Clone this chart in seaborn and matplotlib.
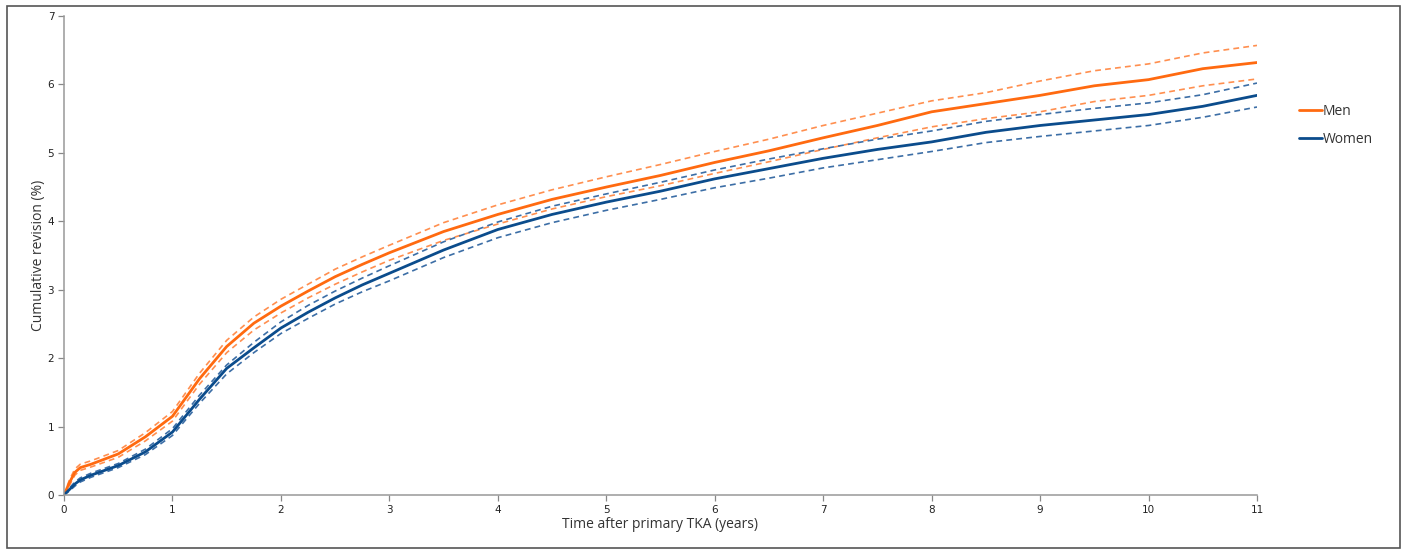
import numpy as np
import pandas as pd
import matplotlib
matplotlib.use("Agg")
import matplotlib.pyplot as plt
import seaborn as sns
from matplotlib.patches import Rectangle
from matplotlib.lines import Line2D

# ---- data ----
years = [0, 0.05, 0.1, 0.15, 0.25, 0.5, 0.75, 1.0, 1.25, 1.5, 1.75, 2, 2.25, 2.5, 2.75, 3,
         3.5, 4, 4.5, 5, 5.5, 6, 6.5, 7, 7.5, 8, 8.5, 9, 9.5, 10, 10.5, 11]
men = [0, 0.18, 0.33, 0.40, 0.45, 0.60, 0.85, 1.15, 1.70, 2.17, 2.51, 2.76, 2.98, 3.19, 3.37, 3.54,
       3.85, 4.10, 4.32, 4.50, 4.67, 4.86, 5.03, 5.22, 5.40, 5.60, 5.72, 5.84, 5.98, 6.07, 6.23, 6.32]
men_upper = [0, 0.22, 0.38, 0.45, 0.50, 0.65, 0.91, 1.22, 1.78, 2.26, 2.60, 2.86, 3.08, 3.30, 3.48, 3.65,
             3.98, 4.24, 4.46, 4.65, 4.83, 5.02, 5.20, 5.40, 5.58, 5.76, 5.88, 6.05, 6.20, 6.30, 6.46, 6.57]
men_lower = [0, 0.14, 0.29, 0.36, 0.41, 0.55, 0.79, 1.08, 1.62, 2.08, 2.41, 2.66, 2.88, 3.08, 3.26, 3.43,
             3.72, 3.96, 4.18, 4.36, 4.52, 4.70, 4.87, 5.05, 5.22, 5.38, 5.50, 5.60, 5.75, 5.84, 5.98, 6.08]
women = [0, 0.08, 0.16, 0.22, 0.29, 0.43, 0.63, 0.92, 1.40, 1.85, 2.15, 2.44, 2.67, 2.88, 3.07, 3.24,
         3.58, 3.88, 4.10, 4.28, 4.44, 4.62, 4.77, 4.92, 5.05, 5.16, 5.30, 5.40, 5.48, 5.56, 5.68, 5.84]
women_upper = [0, 0.10, 0.19, 0.25, 0.32, 0.46, 0.67, 0.97, 1.46, 1.90, 2.23, 2.53, 2.77, 2.98, 3.17, 3.35,
               3.70, 3.99, 4.22, 4.40, 4.57, 4.75, 4.91, 5.06, 5.20, 5.32, 5.46, 5.56, 5.65, 5.73, 5.85, 6.02]
women_lower = [0, 0.06, 0.13, 0.19, 0.26, 0.40, 0.59, 0.87, 1.34, 1.77, 2.08, 2.36, 2.58, 2.79, 2.97, 3.13,
               3.47, 3.76, 3.98, 4.16, 4.32, 4.49, 4.63, 4.78, 4.90, 5.02, 5.15, 5.24, 5.32, 5.40, 5.52, 5.67]

x_ticks = list(range(0, 12))
y_ticks = list(range(0, 8))
x_label = "Time after primary TKA (years)"
y_label = "Cumulative revision (%)"
legend_labels = ["Men", "Women"]

ORANGE = "#ff6a10"
ORANGE_L = "#ff8f4f"
BLUE = "#0b4c8c"
BLUE_L = "#3c6ea6"

sns.set_style("ticks")
plt.rcParams["font.family"] = ["DejaVu Sans"]

fig = plt.figure(figsize=(14.04, 5.52), dpi=100)
ax = fig.add_axes([64 / 1404, 1 - 495 / 552, (1257 - 64) / 1404, (495 - 16) / 552])

series = [
    (men_upper, ORANGE_L, "--", 1.2),
    (men_lower, ORANGE_L, "--", 1.2),
    (women_upper, BLUE_L, "--", 1.2),
    (women_lower, BLUE_L, "--", 1.2),
    (men, ORANGE, "-", 2.0),
    (women, BLUE, "-", 2.0),
]
for vals, col, ls, lw in series:
    sns.lineplot(x=years, y=vals, ax=ax, color=col, linestyle=ls, linewidth=lw,
                 estimator=None, sort=False, legend=False)
for l in ax.lines:
    if l.get_linestyle() == "--":
        l.set_dashes([3.5, 2.5])

ax.set_xlim(0, 11)
ax.set_ylim(0, 7)
ax.set_xticks(x_ticks)
ax.set_yticks(y_ticks)
ax.set_xticklabels([str(t) for t in x_ticks], fontsize=7.5, color="#222222")
ax.set_yticklabels([str(t) for t in y_ticks], fontsize=7.5, color="#222222")
ax.tick_params(axis="both", direction="out", length=4, width=0.9, color="#888888", pad=3)
for s in ["top", "right"]:
    ax.spines[s].set_visible(False)
for s in ["left", "bottom"]:
    ax.spines[s].set_color("#999999")
    ax.spines[s].set_linewidth(1.1)

ax.set_xlabel(x_label, fontsize=10, family=["Open Sans", "DejaVu Sans"], color="#333333", labelpad=2)
ax.set_ylabel(y_label, fontsize=10, family=["Open Sans", "DejaVu Sans"], color="#333333", labelpad=1.5)

handles = [Line2D([0], [0], color=ORANGE, lw=2), Line2D([0], [0], color=BLUE, lw=2)]
leg = ax.legend(handles, legend_labels, loc="upper left", bbox_to_anchor=(1.025, 0.842),
                frameon=False, handlelength=1.6, handletextpad=0.1, labelspacing=0.9,
                prop={"family": ["Open Sans", "DejaVu Sans"], "size": 10})
for t in leg.get_texts():
    t.set_color("#333333")

# outer frame of the figure
fig.patches.append(Rectangle((7 / 1404, 4 / 552), (1400 - 7) / 1404, (548 - 6) / 552,
                             transform=fig.transFigure, fill=False, edgecolor="#555555",
                             linewidth=1.2))

fig.savefig("out.png", dpi=100)
